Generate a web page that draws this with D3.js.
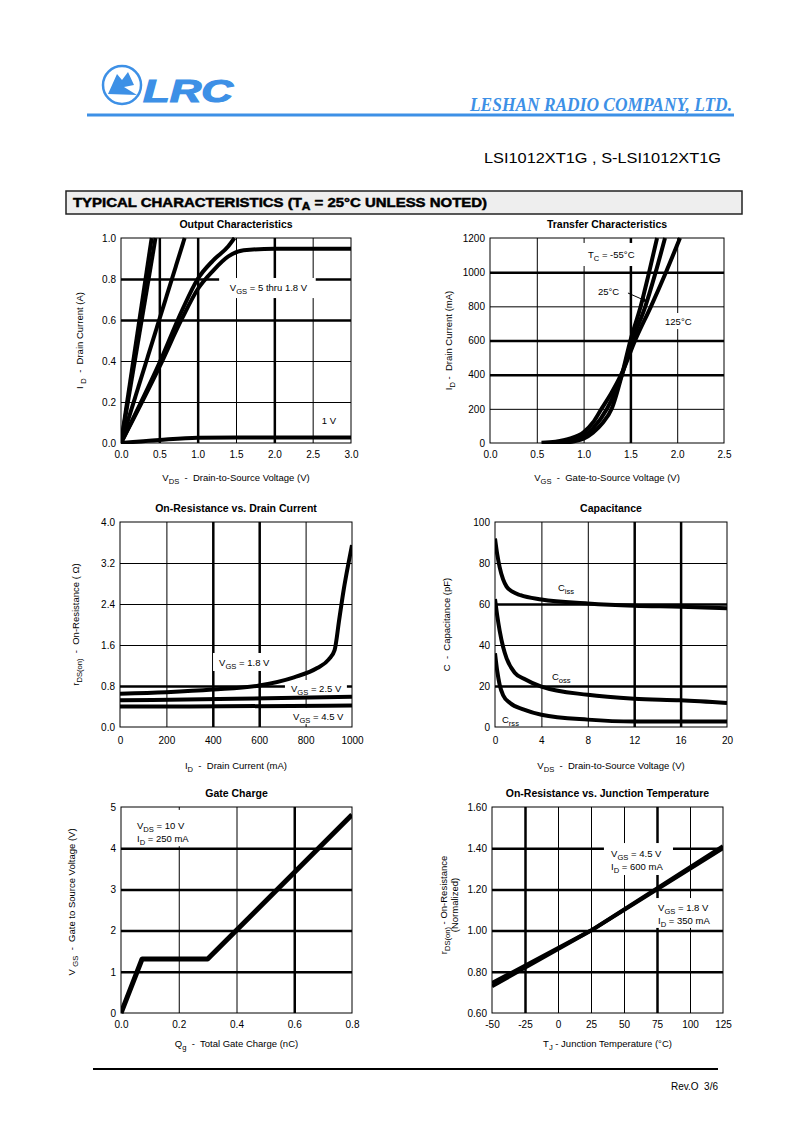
<!DOCTYPE html>
<html>
<head>
<meta charset="utf-8">
<script src="https://cdn.jsdelivr.net/npm/d3@7.9.0/dist/d3.min.js"></script>
<style>
  body { margin: 0; background: #fff; }
  svg { display: block; font-family: "Liberation Sans", Arial, sans-serif; }
  text { white-space: pre; }
</style>
</head>
<body>
<svg id="page" width="794" height="1147"></svg>
<script>
// ---- data ----

// Output characteristics: [VDS (V), ID (A)]
const outVgs5 = [[0, 0], [0.40, 1.0]];
const outVgs45 = [[0, 0], [0.45, 1.0]];
const outVgs3 = [[0, 0], [0.83, 1.0]];
const outVgs25 = [[0, 0], [0.5, 0.39], [0.8, 0.65], [1.0, 0.80], [1.2, 0.89], [1.4, 0.96], [1.48, 1.0]];
const outVgs18 = [[0, 0], [0.5, 0.37], [0.8, 0.61], [1.0, 0.75], [1.2, 0.84], [1.4, 0.91], [1.6, 0.94], [2.0, 0.948], [3.0, 0.948]];
const outVgs1 = [[0, 0], [0.5, 0.015], [1.0, 0.026], [1.5, 0.027], [3.0, 0.027]];

// Transfer characteristics: [VGS (V), ID (mA)]
const trM55 = [[0.62, 0], [0.8, 3], [0.9, 10], [1.0, 25], [1.1, 60], [1.2, 115], [1.3, 200], [1.41, 400], [1.50, 600], [1.61, 800], [1.70, 1000], [1.785, 1200]];
const tr25 = [[0.58, 0], [0.8, 5], [0.9, 15], [1.0, 38], [1.1, 85], [1.25, 200], [1.41, 400], [1.52, 600], [1.66, 800], [1.77, 1000], [1.87, 1200]];
const tr125 = [[0.55, 2], [0.7, 8], [0.85, 25], [1.0, 62], [1.1, 120], [1.18, 190], [1.3, 295], [1.41, 410], [1.55, 600], [1.72, 800], [1.88, 1000], [2.03, 1200]];

// On-resistance vs drain current: [ID (mA), rDS(on) (ohm)]
const rVgs18 = [[0, 0.65], [200, 0.68], [400, 0.73], [600, 0.81], [750, 0.97], [850, 1.15], [900, 1.32], [925, 1.5], [945, 2.1], [965, 2.7], [985, 3.2], [1000, 3.55]];
const rVgs25 = [[0, 0.52], [500, 0.55], [1000, 0.59]];
const rVgs45 = [[0, 0.40], [300, 0.40], [1000, 0.42]];

// Capacitance: [VDS (V), C (pF)]
const cIss = [[0, 92], [0.2, 84], [0.4, 78], [0.7, 72], [1.0, 68.5], [1.5, 66], [2.2, 64.3], [4, 62.2], [8, 60.3], [12, 59.2], [16, 58.7], [20, 57.9]];
const cOss = [[0, 62.4], [0.2, 54], [0.4, 47], [0.7, 39], [1.0, 33.5], [1.7, 26.5], [2.5, 23.5], [4, 19.7], [8, 15.7], [12, 13.8], [16, 13], [20, 11.7]];
const cRss = [[0, 36], [0.2, 27], [0.4, 20.6], [0.7, 15.5], [1.3, 11.7], [2.5, 8.5], [4, 6], [8, 3.6], [12, 2.7], [20, 2.7]];

// Gate charge: [Qg (nC), VGS (V)]
const qgCurve = [[0, 0], [0.073, 1.31], [0.30, 1.31], [0.80, 4.81]];

// On-resistance vs junction temperature: [TJ (C), normalized rDS(on)]
const tjVgs45 = [[-50, 0.73], [25, 1.0], [125, 1.41]];
const tjVgs18 = [[-50, 0.745], [25, 1.0], [125, 1.40]];

// tick values
const outXTicks = [0, 0.5, 1.0, 1.5, 2.0, 2.5, 3.0];
const outYTicks = [0, 0.2, 0.4, 0.6, 0.8, 1.0];
const trXTicks = [0, 0.5, 1.0, 1.5, 2.0, 2.5];
const trYTicks = [0, 200, 400, 600, 800, 1000, 1200];
const rXTicks = [0, 200, 400, 600, 800, 1000];
const rYTicks = [0, 0.8, 1.6, 2.4, 3.2, 4.0];
const cXTicks = [0, 4, 8, 12, 16, 20];
const cYTicks = [0, 20, 40, 60, 80, 100];
const qXTicks = [0, 0.2, 0.4, 0.6, 0.8];
const qYTicks = [0, 1, 2, 3, 4, 5];
const tXTicks = [-50, -25, 0, 25, 50, 75, 100, 125];
const tYTicks = [0.6, 0.8, 1.0, 1.2, 1.4, 1.6];

const svg = d3.select('#page');
const BLUE = '#3d90e6';

// text with "_sub" parts rendered as subscripts
function rich(sel, parts) {
  let down = 0;
  parts.forEach(p => {
    const isSub = p.startsWith('_');
    const t = sel.append('tspan').text(isSub ? p.slice(1) : p);
    if (isSub) { t.attr('dy', 3).attr('font-size', '0.8em'); down = 3; }
    else if (down) { t.attr('dy', -down); down = 0; }
  });
  return sel;
}

// ---- header ----
const logo = svg.append('g');
logo.append('circle').attr('cx', 122).attr('cy', 85).attr('r', 19)
  .attr('fill', 'none').attr('stroke', BLUE).attr('stroke-width', 2.5);
logo.append('path')
  .attr('d', 'M108,94 L117,74 L122,80 L128,72 L134,85 L124,87 L137,95 Z')
  .attr('fill', BLUE);
logo.append('text').attr('x', 143).attr('y', 102)
  .attr('font-size', 32).attr('font-weight', 'bold').attr('font-style', 'italic')
  .attr('textLength', 90).attr('lengthAdjust', 'spacingAndGlyphs')
  .attr('stroke', BLUE).attr('stroke-width', 1.2)
  .attr('fill', BLUE).text('LRC');

svg.append('text').attr('x', 470).attr('y', 111)
  .attr('font-family', '"Liberation Serif", "DejaVu Serif", serif')
  .attr('font-size', 18).attr('font-weight', 'bold').attr('font-style', 'italic')
  .attr('textLength', 262).attr('lengthAdjust', 'spacingAndGlyphs')
  .attr('fill', BLUE).text('LESHAN RADIO COMPANY, LTD.');
svg.append('line').attr('x1', 87).attr('x2', 734).attr('y1', 115).attr('y2', 115)
  .attr('stroke', BLUE).attr('stroke-width', 3);

svg.append('text').attr('x', 484).attr('y', 163)
  .attr('font-size', 15).attr('textLength', 237).attr('lengthAdjust', 'spacingAndGlyphs')
  .text('LSI1012XT1G , S-LSI1012XT1G');

svg.append('rect').attr('x', 66).attr('y', 191).attr('width', 676).attr('height', 23)
  .attr('fill', '#eeeeee').attr('stroke', '#222').attr('stroke-width', 1.5);
rich(svg.append('text').attr('x', 73).attr('y', 207)
  .attr('font-size', 13.5).attr('font-weight', 'bold')
  .attr('stroke', '#000').attr('stroke-width', 0.5)
  .attr('textLength', 414).attr('lengthAdjust', 'spacingAndGlyphs'),
  ['TYPICAL CHARACTERISTICS (T', '_A', ' = 25°C UNLESS NOTED)']);

// ---- footer ----
svg.append('line').attr('x1', 93).attr('x2', 718).attr('y1', 1069).attr('y2', 1069)
  .attr('stroke', '#000').attr('stroke-width', 2);
svg.append('text').attr('x', 718).attr('y', 1090).attr('text-anchor', 'end')
  .attr('font-size', 10).text('Rev.O  3/6');

// ---- generic chart ----
let clipId = 0;
function drawChart(c) {
  const g = svg.append('g');
  const x = d3.scaleLinear().domain(c.xDomain).range([c.left, c.right]);
  const y = d3.scaleLinear().domain(c.yDomain).range([c.bottom, c.top]);
  const w = c.right - c.left, h = c.bottom - c.top;

  // grid
  const gx = g.append('g').attr('transform', `translate(0,${c.bottom})`)
    .call(d3.axisBottom(x).tickValues(c.xTicks.slice(1, -1)).tickSize(-h).tickFormat(''));
  gx.select('.domain').remove();
  gx.selectAll('line').attr('stroke', '#000')
    .attr('stroke-width', d => c.thickX.includes(d) ? 2.5 : 1);
  const gy = g.append('g').attr('transform', `translate(${c.left},0)`)
    .call(d3.axisLeft(y).tickValues(c.yTicks.slice(1, -1)).tickSize(-w).tickFormat(''));
  gy.select('.domain').remove();
  gy.selectAll('line').attr('stroke', '#000')
    .attr('stroke-width', d => c.thickY.includes(d) ? 2.5 : 1);

  // white label backgrounds
  (c.boxes || []).forEach(b => {
    g.append('rect').attr('x', x(b[0])).attr('y', y(b[3]))
      .attr('width', x(b[1]) - x(b[0])).attr('height', y(b[2]) - y(b[3]))
      .attr('fill', '#fff');
  });

  g.append('rect').attr('x', c.left).attr('y', c.top).attr('width', w).attr('height', h)
    .attr('fill', 'none').attr('stroke', '#000').attr('stroke-width', 1);

  // tick labels
  const ax = g.append('g').attr('transform', `translate(0,${c.bottom})`)
    .call(d3.axisBottom(x).tickValues(c.xTicks).tickSize(0).tickPadding(c.xPad || 8).tickFormat(c.xFmt));
  ax.select('.domain').remove();
  ax.selectAll('text').attr('font-size', 10).attr('font-family', null);
  const ay = g.append('g').attr('transform', `translate(${c.left},0)`)
    .call(d3.axisLeft(y).tickValues(c.yTicks).tickSize(0).tickPadding(5).tickFormat(c.yFmt));
  ay.select('.domain').remove();
  ay.selectAll('text').attr('font-size', 10).attr('font-family', null);

  // curves
  const id = 'clip' + (clipId++);
  g.append('clipPath').attr('id', id).append('rect')
    .attr('x', c.left).attr('y', c.top - 1).attr('width', w).attr('height', h + 2);
  const line = d3.line().x(d => x(d[0])).y(d => y(d[1])).curve(c.curve || d3.curveMonotoneX);
  c.series.forEach(s => {
    g.append('path').attr('d', line(s)).attr('clip-path', `url(#${id})`)
      .attr('fill', 'none').attr('stroke', '#000')
      .attr('stroke-width', c.lineWidth || 4).attr('stroke-linejoin', 'round');
  });

  // annotations
  (c.labels || []).forEach(l => {
    rich(g.append('text').attr('x', x(l[0])).attr('y', y(l[1])).attr('font-size', 9.5), l[2]);
  });
  (c.arrows || []).forEach(a => {
    g.append('line').attr('x1', x(a[0])).attr('y1', y(a[1])).attr('x2', x(a[2])).attr('y2', y(a[3]))
      .attr('stroke', '#000').attr('stroke-width', 1);
    const ang = Math.atan2(y(a[3]) - y(a[1]), x(a[2]) - x(a[0]));
    const tx = x(a[2]), ty = y(a[3]);
    g.append('path').attr('d', `M${tx},${ty} L${tx - 6 * Math.cos(ang - 0.4)},${ty - 6 * Math.sin(ang - 0.4)} L${tx - 6 * Math.cos(ang + 0.4)},${ty - 6 * Math.sin(ang + 0.4)} Z`)
      .attr('fill', '#000');
  });

  // titles
  g.append('text').attr('x', (c.left + c.right) / 2).attr('y', c.top - 10)
    .attr('text-anchor', 'middle').attr('font-size', 10.5).attr('font-weight', 'bold').text(c.title);
  rich(g.append('text').attr('x', (c.left + c.right) / 2 + (c.xLabelDx || 0)).attr('y', c.bottom + c.xLabelDy)
    .attr('text-anchor', 'middle').attr('font-size', 9.5), c.xLabel);
  c.yLabel.forEach((parts, i) => {
    const cy = (c.top + c.bottom) / 2 + (c.yLabelDy || 0);
    const lx = c.yLabelX[i];
    rich(g.append('text').attr('transform', `translate(${lx},${cy}) rotate(-90)`)
      .attr('text-anchor', 'middle').attr('font-size', 9.5), parts);
  });
}

const f1 = d3.format('.1f');
const f0 = d3.format('d');
const fT = d => String(d);

drawChart({
  left: 121, right: 351, top: 238, bottom: 443,
  xDomain: [0, 3], yDomain: [0, 1], xTicks: outXTicks, yTicks: outYTicks,
  xFmt: f1, yFmt: f1, thickX: [0.5, 1.0, 2.0], thickY: [0.6, 0.8],
  series: [outVgs5, outVgs45, outVgs3, outVgs25, outVgs18, outVgs1],
  boxes: [[1.28, 2.54, 0.707, 0.805]],
  labels: [[1.42, 0.741, ['V', '_GS', ' = 5 thru 1.8 V']], [2.62, 0.093, ['1 V']]],
  title: 'Output Characteristics',
  xLabel: ['V', '_DS', '  -  Drain-to-Source Voltage (V)'], xLabelDy: 38,
  yLabel: [['I ', '_D', '  -  Drain Current (A)']], yLabelX: [83]
});

drawChart({
  left: 490, right: 724, top: 238, bottom: 443,
  xDomain: [0, 2.5], yDomain: [0, 1200], xTicks: trXTicks, yTicks: trYTicks,
  xFmt: f1, yFmt: f0, thickX: [1.5], thickY: [400, 600, 1000],
  series: [trM55, tr25, tr125],
  boxes: [[0.98, 1.62, 1036, 1171], [1.11, 1.45, 837, 931], [1.84, 2.21, 667, 761]],
  labels: [[1.047, 1083, ['T', '_C', ' = -55°C']], [1.154, 866, ['25°C']], [1.87, 691, ['125°C']]],
  arrows: [[1.474, 878, 1.688, 826]],
  title: 'Transfer Characteristics',
  xLabel: ['V', '_GS', '  -  Gate-to-Source Voltage (V)'], xLabelDy: 38,
  yLabel: [['I', '_D', ' -  Drain Current (mA)']], yLabelX: [452]
});

drawChart({
  left: 120, right: 352, top: 522, bottom: 727,
  xDomain: [0, 1000], yDomain: [0, 4], xTicks: rXTicks, yTicks: rYTicks,
  xFmt: f0, yFmt: f1, thickX: [400, 600], thickY: [0.8], xPad: 10,
  series: [rVgs18, rVgs25, rVgs45],
  boxes: [[401, 664, 1.093, 1.444], [711, 978, 0.585, 0.917], [724, 978, 0.06, 0.37]],
  labels: [[427, 1.19, ['V', '_GS', ' = 1.8 V']], [737, 0.683, ['V', '_GS', ' = 2.5 V']], [746, 0.137, ['V', '_GS', ' = 4.5 V']]],
  title: 'On-Resistance vs. Drain Current',
  xLabel: ['I', '_D', '  -  Drain Current (mA)'], xLabelDy: 42,
  yLabel: [['r', '_DS(on)', '  -  On-Resistance ( Ω)']], yLabelX: [79]
});

drawChart({
  left: 495, right: 727, top: 522, bottom: 727,
  xDomain: [0, 20], yDomain: [0, 100], xTicks: cXTicks, yTicks: cYTicks,
  xFmt: f0, yFmt: f0, thickX: [12, 16], thickY: [20, 60], xPad: 10,
  series: [cIss, cOss, cRss],
  labels: [[5.43, 66.3, ['C', '_iss']], [4.91, 22.9, ['C', '_oss']], [0.6, 1.95, ['C', '_rss']]],
  title: 'Capacitance',
  xLabel: ['V', '_DS', '  -  Drain-to-Source Voltage (V)'], xLabelDy: 42,
  yLabel: [['C  -  Capacitance (pF)']], yLabelX: [450]
});

drawChart({
  left: 121, right: 352, top: 807, bottom: 1013,
  xDomain: [0, 0.8], yDomain: [0, 5], xTicks: qXTicks, yTicks: qYTicks,
  xFmt: f1, yFmt: f0, thickX: [0.6], thickY: [1, 2, 3, 4],
  series: [qgCurve], curve: d3.curveLinear, lineWidth: 5,
  boxes: [[0.0416, 0.239, 4.05, 4.93]],
  labels: [[0.0554, 4.466, ['V', '_DS', ' = 10 V']], [0.0554, 4.15, ['I', '_D', ' = 250 mA']]],
  title: 'Gate Charge',
  xLabel: ['Q', '_g', '  -  Total Gate Charge (nC)'], xLabelDy: 34,
  yLabel: [['V ', '_GS', '  -  Gate to Source Voltage (V)']], yLabelX: [75], yLabelDy: -8
});

drawChart({
  left: 492, right: 723, top: 807, bottom: 1013,
  xDomain: [-50, 125], yDomain: [0.6, 1.6], xTicks: tXTicks, yTicks: tYTicks,
  xFmt: fT, yFmt: d3.format('.2f'), thickX: [-25, 75], thickY: [0.8, 1.0, 1.2, 1.4],
  series: [tjVgs45, tjVgs18], curve: d3.curveLinear, lineWidth: 4,
  boxes: [[34.8, 87.1, 1.27, 1.425], [71.2, 116.7, 1.013, 1.158]],
  labels: [[40.2, 1.357, ['V', '_GS', ' = 4.5 V']], [40.2, 1.294, ['I', '_D', ' = 600 mA']],
           [75.8, 1.095, ['V', '_GS', ' = 1.8 V']], [75.8, 1.032, ['I', '_D', ' = 350 mA']]],
  title: 'On-Resistance vs. Junction Temperature',
  xLabel: ['T', '_J', ' - Junction Temperature (°C)'], xLabelDy: 34,
  yLabel: [['r', '_DS(on)', ' - On-Resistance'], ['(Normalized)']], yLabelX: [447, 458], yLabelDy: -5
});
</script>
</body>
</html>
